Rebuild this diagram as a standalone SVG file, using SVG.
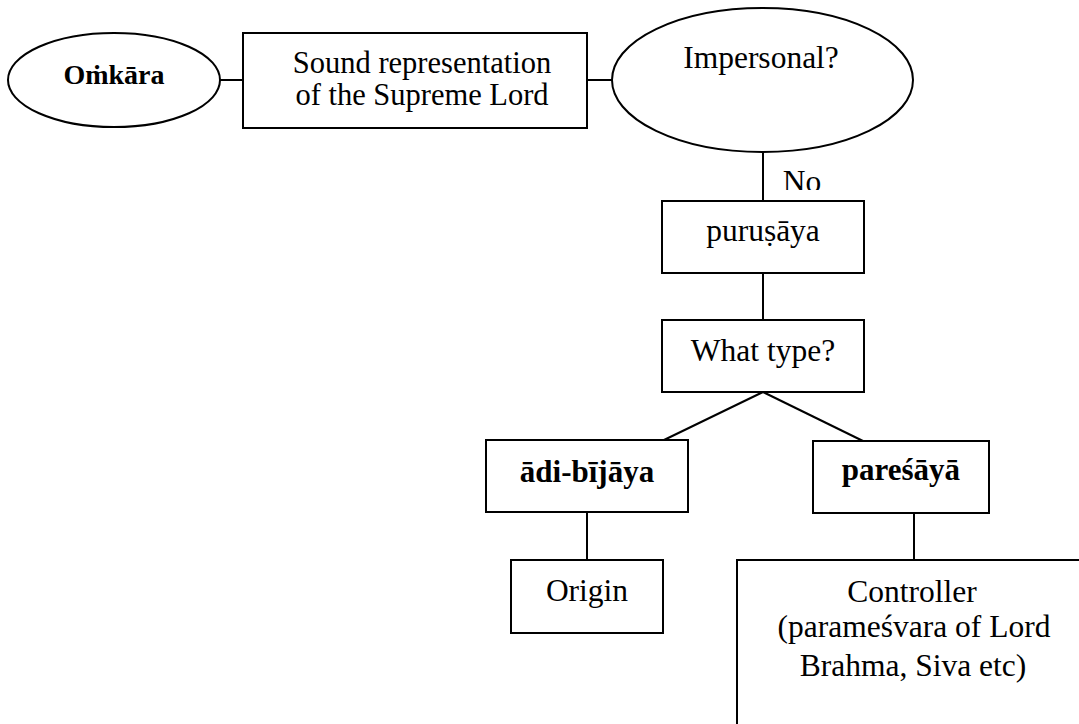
<svg xmlns="http://www.w3.org/2000/svg" width="1079" height="724" viewBox="0 0 1079 724">
  <style>
    .shape { fill: #ffffff; stroke: #000000; stroke-width: 2; }
    .link { stroke: #000000; stroke-width: 2; fill: none; }
    .label { font-size: 31.5px; fill: #000000; text-anchor: middle; }
    .bold { font-weight: bold; font-size: 31px; }
    .tight { font-size: 30.5px; }
  </style>
  <defs>
    <clipPath id="noClip">
      <rect x="760" y="150" width="100" height="40"/>
    </clipPath>
  </defs>
  <rect x="0" y="0" width="1079" height="724" fill="#ffffff"/>

  <g font-family="'Liberation Serif', 'Times New Roman', Times, serif">
    <!-- connectors -->
    <g id="connectors">
      <line class="link" x1="220" y1="80" x2="243" y2="80"/>
      <line class="link" x1="587" y1="80" x2="612" y2="80"/>
      <line class="link" x1="763" y1="152" x2="763" y2="201"/>
      <line class="link" x1="763" y1="273" x2="763" y2="320"/>
      <line class="link" x1="763" y1="392" x2="664" y2="440"/>
      <line class="link" x1="763" y1="392" x2="863" y2="441"/>
      <line class="link" x1="587" y1="512" x2="587" y2="560"/>
      <line class="link" x1="914" y1="513" x2="914" y2="560"/>
      <text class="label" x="802" y="192" clip-path="url(#noClip)">No</text>
    </g>

    <g id="omkara">
      <ellipse class="shape" cx="114" cy="80" rx="106" ry="47"/>
      <text class="label bold" x="114" y="84" style="font-size:28px">Oṁkāra</text>
    </g>

    <g id="sound">
      <rect class="shape" x="243" y="33" width="344" height="95"/>
      <text class="label tight" x="422" y="73">Sound representation</text>
      <text class="label tight" x="422" y="105">of the Supreme Lord</text>
    </g>

    <g id="impersonal">
      <ellipse class="shape" cx="762.5" cy="80" rx="150.5" ry="72"/>
      <text class="label" x="761" y="68">Impersonal?</text>
    </g>

    <g id="purusaya">
      <rect class="shape" x="662" y="201" width="202" height="72"/>
      <text class="label" x="763" y="241">puruṣāya</text>
    </g>

    <g id="whattype">
      <rect class="shape" x="662" y="320" width="202" height="72"/>
      <text class="label" x="763" y="361">What type?</text>
    </g>

    <g id="adibijaya">
      <rect class="shape" x="486" y="440" width="202" height="72"/>
      <text class="label bold" x="587" y="482">ādi-bījāya</text>
    </g>

    <g id="paresaya">
      <rect class="shape" x="813" y="441" width="176" height="72"/>
      <text class="label bold" x="901" y="480">pareśāyā</text>
    </g>

    <g id="origin">
      <rect class="shape" x="511" y="560" width="152" height="73"/>
      <text class="label" x="587" y="601">Origin</text>
    </g>

    <g id="controller">
      <rect class="shape" x="737" y="560" width="400" height="300"/>
      <text class="label" x="912" y="602">Controller</text>
      <text class="label" x="914" y="637">(parameśvara of Lord</text>
      <text class="label" x="913" y="676">Brahma, Siva etc)</text>
    </g>
  </g>
</svg>
